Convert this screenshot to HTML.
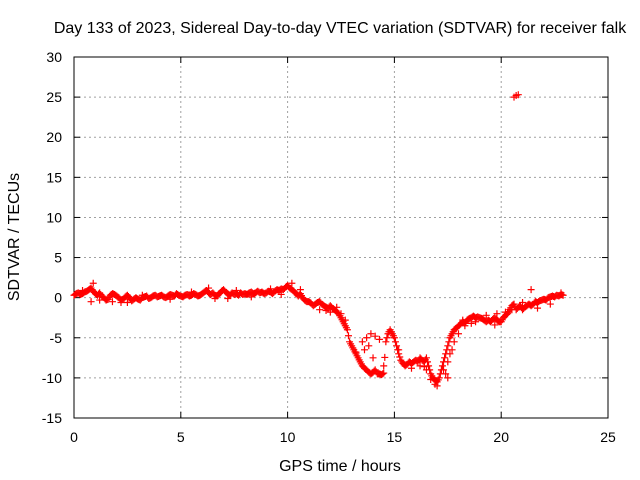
<!DOCTYPE html>
<html><head><meta charset="utf-8">
<style>
body{margin:0;background:#fff;}
svg{display:block;font-family:"Liberation Sans",sans-serif;}
</style></head>
<body>
<svg id="chart" width="640" height="480">
<rect width="640" height="480" fill="#fff"/>
<text x="340" y="33" text-anchor="middle" font-size="16">Day 133 of 2023, Sidereal Day-to-day VTEC variation (SDTVAR) for receiver falk</text>
<text x="340" y="471" text-anchor="middle" font-size="16">GPS time / hours</text>
<text transform="translate(19,237) rotate(-90)" text-anchor="middle" font-size="16">SDTVAR / TECUs</text>
<g id="grid"></g><g id="axes"></g><g id="pts"></g>
</svg>
<script>
const xTicks=[0,5,10,15,20,25];
const yTicks=[-15,-10,-5,0,5,10,15,20,25,30];
const mainStart=0.0, mainStep=0.1;
const mainValues=[
0.3,0.5,0.6,0.4,0.5,0.7,0.8,1.0,1.2,0.8,
0.5,0.3,0.6,0.2,0.0,-0.3,-0.2,0.3,0.5,0.4,
0.2,0.0,-0.3,-0.2,0.1,0.3,0.0,-0.4,-0.2,0.0,
-0.2,-0.3,0.0,0.1,0.2,-0.1,0.0,0.2,0.3,0.1,
0.2,0.3,0.1,0.0,0.2,0.4,0.3,0.2,0.5,0.3,
0.2,0.1,0.3,0.4,0.2,0.3,0.5,0.4,0.2,0.3,
0.5,0.7,0.9,0.6,0.4,0.6,0.3,0.2,0.5,0.8,
1.0,0.7,0.5,0.3,0.6,0.4,0.5,0.3,0.6,0.4,
0.5,0.4,0.6,0.7,0.5,0.6,0.8,0.6,0.7,0.5,
0.6,0.8,0.7,0.5,0.8,1.0,0.9,1.1,1.0,1.3,
1.5,1.2,1.0,0.8,0.5,0.2,0.5,0.0,-0.3,-0.5,
-0.5,-0.7,-1.0,-0.8,-0.6,-0.5,-0.8,-1.0,-1.2,-1.3,
-1.0,-1.3,-1.5,-1.8,-2.0,-2.5,-3.0,-3.5,-4.0,-5.5,
-6.0,-6.5,-7.0,-7.5,-8.0,-8.5,-8.8,-9.0,-9.3,-9.5,
-9.3,-9.0,-9.5,-9.5,-9.6,-9.4,-5.5,-4.5,-4.0,-4.5,
-5.0,-6.0,-7.0,-7.8,-8.2,-8.5,-8.3,-8.0,-8.2,-8.0,
-7.8,-8.0,-7.5,-7.8,-8.0,-7.5,-8.5,-9.5,-10.0,-10.3,
-10.5,-10.0,-9.0,-8.0,-7.0,-6.0,-5.0,-4.5,-4.0,-3.8,
-3.5,-3.3,-3.0,-3.2,-2.8,-2.6,-2.5,-2.3,-2.5,-2.4,
-2.5,-2.6,-2.8,-3.0,-2.8,-3.0,-2.7,-2.5,-2.8,-3.0,
-3.0,-2.5,-2.2,-2.0,-1.5,-1.0,-0.8,-1.5,-1.2,-1.0,
-1.5,-1.2,-1.0,-0.8,-1.0,-0.8,-0.5,-0.6,-0.4,-0.3,
-0.2,-0.3,0.0,0.1,0.2,0.1,0.3,0.2,0.4,0.3];
const extraTimes=[13.5,13.7,13.9,14.1,14.3,13.6,14.0,14.5,16.5,16.7,16.9,17.0,17.3,17.5,17.6,17.7,17.8,17.4,17.5,18.0,18.3,18.6,19.8,20.2,20.5,20.6,20.7,20.8,0.9,0.8,1.8,2.2,10.2,11.5,11.8,12.3,12.7,16.2,21.4,22.8,11.8,
0.4,1.2,2.5,3.2,4.5,5.5,6.3,6.6,7.2,7.6,8.3,9.2,9.7,10.6,12.0,12.5,13.2,13.8,15.2,15.8,16.4,18.2,18.8,19.3,19.7,20.3,21.0,21.7,22.3];
const extraValues=[-5.5,-5,-4.5,-4.8,-5.2,-6.5,-7.5,-8.5,-9,-10.2,-10.8,-11,-9,-8,-7,-6.5,-5.5,-9.5,-10,-4.5,-3.5,-3.2,-2,-1.8,-1.5,25,25.2,25.3,1.8,-0.5,-0.5,-0.6,1.8,-1.5,-1.6,-1.2,-2.8,-8.5,1.0,0.6,-1.2,
0.9,-0.3,-0.6,0.3,-0.2,0.7,1.2,-0.1,-0.1,0.9,0.1,1.1,0.4,1.0,-1.8,-2.0,-6.8,-6.0,-6.5,-8.8,-8.6,-2.8,-3.0,-2.2,-3.4,-1.8,-0.6,-1.3,-0.8];
const X0=74,X1=608,Y0=418,Y1=57;
const xs=v=>X0+(v-0)/(25-0)*(X1-X0);
const ys=v=>Y0-(v+15)/(45)*(Y0-Y1);
const NS='http://www.w3.org/2000/svg';
function mk(tag,attrs,parent){const e=document.createElementNS(NS,tag);for(const k in attrs)e.setAttribute(k,attrs[k]);parent.appendChild(e);return e;}
const grid=document.getElementById('grid'),axes=document.getElementById('axes'),pts=document.getElementById('pts');
xTicks.forEach(t=>{const x=xs(t);
 if(t>0&&t<25){const g=mk('line',{x1:x,x2:x,y1:Y0,y2:Y1,stroke:'#a0a0a0','stroke-dasharray':'2,3','stroke-width':1},grid);
 
 }
 mk('line',{x1:x,x2:x,y1:Y0,y2:Y0-6,stroke:'#000'},axes);
 mk('line',{x1:x,x2:x,y1:Y1,y2:Y1+6,stroke:'#000'},axes);
 const l=mk('text',{x:x,y:Y0+24,'text-anchor':'middle','font-size':14},axes);l.textContent=t;
 
 
});
yTicks.forEach(t=>{const y=ys(t);
 if(t>-15&&t<30){const g=mk('line',{x1:X0,x2:X1,y1:y,y2:y,stroke:'#a0a0a0','stroke-dasharray':'2,3','stroke-width':1},grid);
 
 }
 mk('line',{x1:X0,x2:X0+6,y1:y,y2:y,stroke:'#000'},axes);
 mk('line',{x1:X1,x2:X1-6,y1:y,y2:y,stroke:'#000'},axes);
 const l=mk('text',{x:X0-12,y:y+5,'text-anchor':'end','font-size':14},axes);l.textContent=t;
 
 
});
const b=mk('rect',{x:X0,y:Y1,width:X1-X0,height:Y0-Y1,fill:'none',stroke:'#000'},axes);


function plus(t,v){const x=xs(t),y=ys(v);
 const p=mk('path',{d:`M${x-3.5},${y}H${x+3.5}M${x},${y-3.5}V${y+3.5}`,stroke:'#f00','stroke-width':1.2,fill:'none'},pts);
 
 }
for(let i=0;i<mainValues.length;i++){const t=mainStart+i*mainStep;plus(t,mainValues[i]);
 if(i+1<mainValues.length){plus(t+mainStep/2,(mainValues[i]+mainValues[i+1])/2);}}
extraTimes.forEach((t,i)=>plus(t,extraValues[i]));
</script>
</body></html>
